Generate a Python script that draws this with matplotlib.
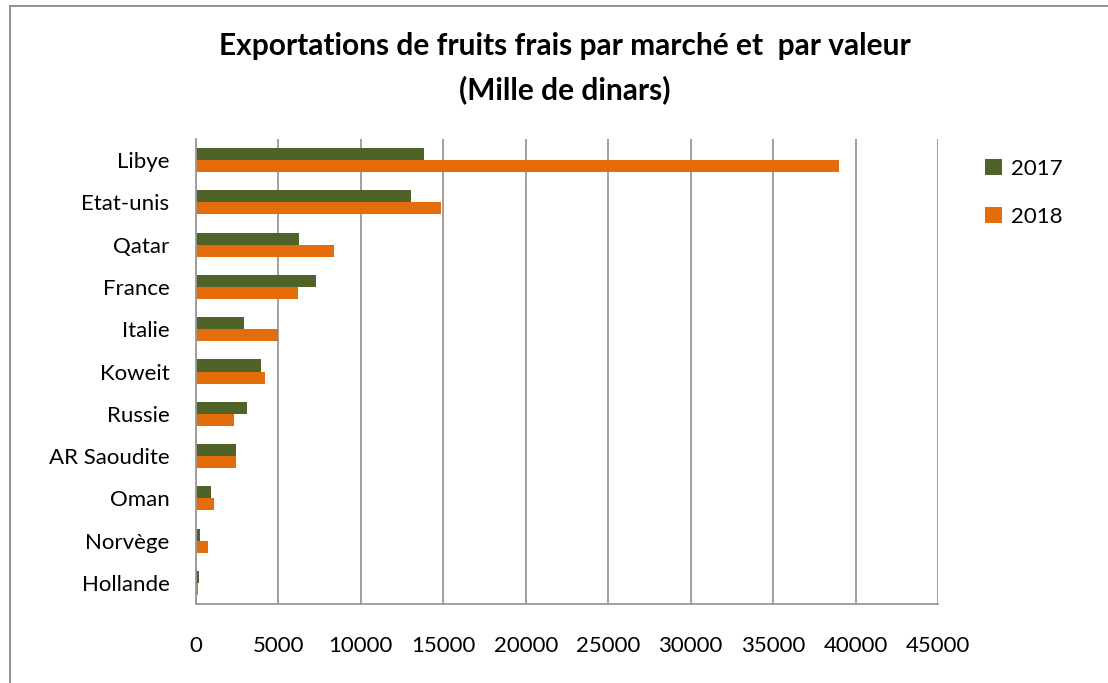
import numpy as np
import matplotlib
matplotlib.use("Agg")
import matplotlib.pyplot as plt
from matplotlib.lines import Line2D

plt.rcParams['font.family'] = ['Lato', 'DejaVu Sans']

pays = ['Libye', 'Etat-unis', 'Qatar', 'France', 'Italie', 'Koweit',
        'Russie', 'AR Saoudite', 'Oman', 'Norvège', 'Hollande']
val_2017 = [13800, 13050, 6250, 7300, 2900, 3950, 3100, 2450, 900, 250, 200]
val_2018 = [39000, 14850, 8350, 6200, 4950, 4200, 2300, 2400, 1100, 750, 100]
x_ticks = [0, 5000, 10000, 15000, 20000, 25000, 30000, 35000, 40000, 45000]

vert = '#4F6228'
orange = '#E46C0A'
gris = '#999999'

fig = plt.figure(figsize=(11.08, 6.83), dpi=100)
ax = fig.add_axes([196 / 1108, 1 - 604 / 683, 742 / 1108, 465 / 683])

n = len(pays)
y = np.arange(n)[::-1]
h = 0.285
ax.barh(y + h / 2, val_2017, height=h, color=vert, label='2017')
ax.barh(y - h / 2, val_2018, height=h, color=orange, label='2018')

ax.set_xlim(0, 45000)
ax.set_ylim(-0.5, n - 0.5)
ax.set_xticks(x_ticks)
ax.set_xticklabels([str(v) for v in x_ticks])
ax.set_yticks(y)
ax.set_yticklabels(pays)
ax.tick_params(axis='both', length=0, labelsize=16)
ax.tick_params(axis='x', pad=23)
ax.tick_params(axis='y', pad=19)

ax.grid(axis='x', color=gris, linewidth=1.3)
ax.set_axisbelow(True)
for s in ['top', 'right']:
    ax.spines[s].set_visible(False)
for s in ['left', 'bottom']:
    ax.spines[s].set_color(gris)
    ax.spines[s].set_linewidth(1.3)

fig.text(565 / 1108, 1 - 68 / 683,
         'Exportations de fruits frais par marché et  par valeur\n(Mille de dinars)',
         ha='center', va='center', fontsize=21.5, fontweight='bold',
         linespacing=1.65)

ax.legend(loc='upper left', bbox_to_anchor=(1.037, 1.0), frameon=False,
          fontsize=16, handlelength=0.75, handleheight=0.75,
          handletextpad=0.4, labelspacing=1.25)

# cadre du graphique
fig.add_artist(Line2D([10 / 1108, 10 / 1108], [0, 1 - 6 / 683], color='#888888', linewidth=1.3))
fig.add_artist(Line2D([10 / 1108, 1], [1 - 6 / 683, 1 - 6 / 683], color='#888888', linewidth=1.3))

fig.savefig('out.png', dpi=100)
